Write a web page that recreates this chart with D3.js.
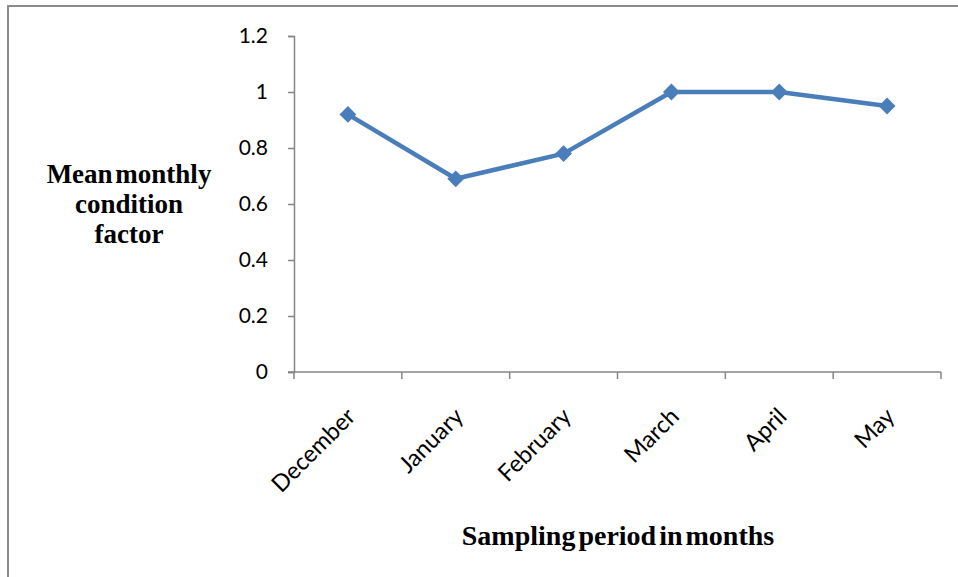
<!DOCTYPE html>
<html>
<head>
<meta charset="utf-8">
<script src="https://cdn.jsdelivr.net/npm/d3@7"></script>
<style>
  html, body { margin: 0; padding: 0; background: #fff; }
  svg { display: block; }
</style>
</head>
<body>
<svg id="chart" width="958" height="577"></svg>
<script>
// Mean monthly condition factor by sampling month
const months = ["December", "January", "February", "March", "April", "May"];
const conditionFactor = [0.92, 0.69, 0.78, 1.0, 1.0, 0.95];
const yTicks = [0, 0.2, 0.4, 0.6, 0.8, 1, 1.2];

const svg = d3.select("#chart");
const W = 958, H = 577;
const plot = { left: 294, right: 941, top: 36, bottom: 372 };
const axisColor = "#868686";
const seriesColor = "#4a7ebb";

// outer chart frame
svg.append("path")
  .attr("d", `M8,${H} L8,6 L${W},6`)
  .attr("fill", "none")
  .attr("stroke", "#8c8c8c")
  .attr("stroke-width", 2);

const x = d3.scaleBand().domain(months).range([plot.left, plot.right]).paddingInner(0).paddingOuter(0);
const y = d3.scaleLinear().domain([0, 1.2]).range([plot.bottom, plot.top]);

// y axis
const yAxis = svg.append("g")
  .attr("transform", `translate(${plot.left},0)`)
  .call(d3.axisLeft(y).tickValues(yTicks).tickSize(6).tickPadding(20)
    .tickFormat(d => d3.format("")(+d.toFixed(1))));
yAxis.select(".domain").attr("stroke", axisColor).attr("stroke-width", 1.5);
yAxis.selectAll(".tick line").attr("stroke", axisColor).attr("stroke-width", 1.5);
yAxis.selectAll(".tick text")
  .attr("fill", "#000")
  .style("font-family", "Lato, 'Open Sans', sans-serif")
  .style("font-size", "21px");

// x axis: ticks sit on the category boundaries
const boundaries = months.map(m => x(m)).concat([x(months[months.length - 1]) + x.bandwidth()]);
const xAxis = svg.append("g").attr("transform", `translate(0,${plot.bottom})`);
xAxis.append("line")
  .attr("x1", plot.left - 6).attr("x2", plot.right)
  .attr("stroke", axisColor).attr("stroke-width", 1.5);
xAxis.selectAll("line.tick")
  .data(boundaries)
  .join("line")
  .attr("class", "tick")
  .attr("x1", d => d).attr("x2", d => d)
  .attr("y1", 0).attr("y2", 7)
  .attr("stroke", axisColor).attr("stroke-width", 1.5);

xAxis.selectAll("text.month")
  .data(months)
  .join("text")
  .attr("class", "month")
  .attr("text-anchor", "end")
  .attr("transform", d => `translate(${x(d) + x.bandwidth() / 2 + 9},${46}) rotate(-45)`)
  .style("font-family", "Lato, 'Open Sans', sans-serif")
  .style("font-size", "23.5px")
  .attr("fill", "#000")
  .text(d => d);

// series line and diamond markers
const pts = months.map((m, i) => [x(m) + x.bandwidth() / 2, y(conditionFactor[i])]);
svg.append("path")
  .datum(pts)
  .attr("d", d3.line())
  .attr("fill", "none")
  .attr("stroke", seriesColor)
  .attr("stroke-width", 4.5)
  .attr("stroke-linejoin", "round");

svg.selectAll("path.marker")
  .data(pts)
  .join("path")
  .attr("class", "marker")
  .attr("transform", d => `translate(${d[0]},${d[1]})`)
  .attr("d", d3.symbol().type(d3.symbolDiamond2).size(180))
  .attr("fill", seriesColor);

// axis titles
const yTitle = svg.append("text")
  .attr("text-anchor", "middle")
  .style("font-family", "'Liberation Serif', 'Times New Roman', serif")
  .style("font-weight", "bold")
  .style("font-size", "27px")
  .style("word-spacing", "-4px")
  .attr("fill", "#000");
[["Mean monthly", 183], ["condition", 213], ["factor", 243]].forEach(([t, by]) => {
  yTitle.append("tspan").attr("x", 129).attr("y", by).text(t);
});

svg.append("text")
  .attr("x", 618).attr("y", 545)
  .attr("text-anchor", "middle")
  .style("font-family", "'Liberation Serif', 'Times New Roman', serif")
  .style("font-weight", "bold")
  .style("font-size", "28px")
  .style("word-spacing", "-4px")
  .attr("fill", "#000")
  .text("Sampling period in months");
</script>
</body>
</html>
